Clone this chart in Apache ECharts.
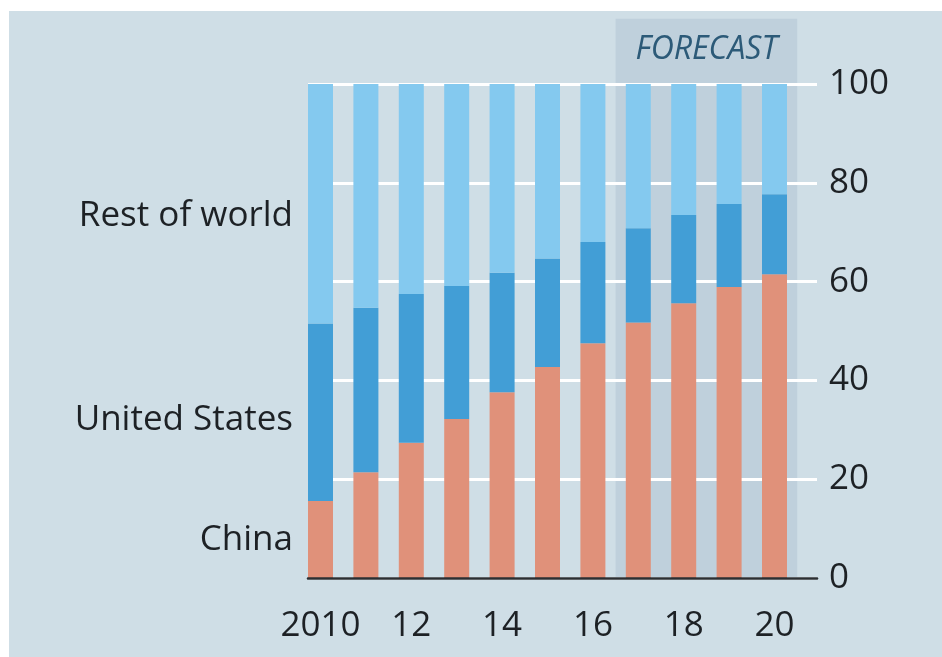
<!DOCTYPE html>
<html>
<head>
<meta charset="utf-8">
<script src="https://cdn.jsdelivr.net/npm/echarts@6/dist/echarts.min.js"></script>
<style>
  html, body { margin: 0; padding: 0; background: #ffffff; }
  #chart { width: 942px; height: 657px; }
</style>
</head>
<body>
<div id="chart"></div>
<script>
// Share of total, %, stacked from the bottom: China, United States, rest of world
const years = ['2010', '2011', '2012', '2013', '2014', '2015', '2016', '2017', '2018', '2019', '2020'];
const china = [15.6, 21.4, 27.4, 32.2, 37.6, 42.7, 47.5, 51.7, 55.6, 58.9, 61.5];
const unitedStates = [35.9, 33.3, 30.1, 26.9, 24.2, 22.0, 20.5, 19.1, 17.9, 16.8, 16.2];
const restOfWorld = [48.5, 45.3, 42.5, 40.9, 38.2, 35.3, 32.0, 29.2, 26.5, 24.3, 22.3];

const seriesNames = ['China', 'United States', 'Rest of world'];
const forecastYears = ['2017', '2020'];   // first and last forecast bars
const forecastLabel = 'FORECAST';

const FONT = '"Open Sans", "Noto Sans", sans-serif';
const TEXT = '#1d2125';

const chart = echarts.init(document.getElementById('chart'), null, { renderer: 'canvas' });

const bandPlot = { left: 297.8, right: 144.8, top: 84, bottom: 79 };   // bars, one band per year
const framePlot = { left: 308, right: 125, top: 84, bottom: 79 };     // gridlines and baseline

const option = {
  animation: false,
  backgroundColor: '#ffffff',
  grid: [
    Object.assign({ containLabel: false }, framePlot),
    Object.assign({ containLabel: false }, bandPlot)
  ],
  graphic: [
    { type: 'rect', z: -10, silent: true,
      shape: { x: 9, y: 11, width: 933, height: 646 },
      style: { fill: '#cfdee6' } },
    { type: 'text', z: 5, x: 293, y: 216,
      style: { text: seriesNames[2], fill: TEXT, fontFamily: FONT, fontSize: 35, align: 'right', verticalAlign: 'middle' } },
    { type: 'text', z: 5, x: 293, y: 420,
      style: { text: seriesNames[1], fill: TEXT, fontFamily: FONT, fontSize: 35, align: 'right', verticalAlign: 'middle' } },
    { type: 'text', z: 5, x: 293, y: 540,
      style: { text: seriesNames[0], fill: TEXT, fontFamily: FONT, fontSize: 35, align: 'right', verticalAlign: 'middle' } }
  ],
  xAxis: [
    {
      gridIndex: 0,
      type: 'value',
      min: 0,
      max: 1,
      z: 3,
      axisLine: { show: true, onZero: false, lineStyle: { color: '#2b2f33', width: 2.5 } },
      axisTick: { show: false },
      axisLabel: { show: false },
      splitLine: { show: false }
    },
    {
      gridIndex: 1,
      type: 'category',
      data: years,
      boundaryGap: true,
      axisLine: { show: false },
      axisTick: { show: false },
      splitLine: { show: false },
      axisLabel: {
        interval: 1,
        margin: 31,
        color: TEXT,
        fontFamily: FONT,
        fontSize: 35,
        formatter: (v, i) => (i === 0 ? v : v.slice(2))
      }
    }
  ],
  yAxis: [
    {
      gridIndex: 0,
      type: 'value',
      position: 'right',
      min: 0,
      max: 100,
      interval: 20,
      z: 1.5,
      axisLine: { show: false },
      axisTick: { show: false },
      splitLine: { show: true, lineStyle: { color: '#ffffff', width: 3 } },
      axisLabel: {
        margin: 12,
        padding: [5, 0, 0, 0],
        color: TEXT,
        fontFamily: FONT,
        fontSize: 35,
        align: 'left'
      }
    },
    {
      gridIndex: 1,
      type: 'value',
      min: 0,
      max: 100,
      show: false,
      splitLine: { show: false }
    }
  ],
  series: [
    {
      // Shaded forecast period, with its caption above the plot
      type: 'custom',
      name: 'Forecast',
      xAxisIndex: 1,
      yAxisIndex: 1,
      z: 1,
      silent: true,
      clip: false,
      encode: { x: 0, y: 1 },
      data: [[years.indexOf(forecastYears[0]), 113.2, years.indexOf(forecastYears[1])]],
      renderItem: function (params, api) {
        const band = api.size([1, 0])[0];
        const first = api.coord([api.value(0), 0]);
        const last = api.coord([api.value(2), api.value(1)]);
        const gridTop = api.coord([api.value(0), 100])[1];
        const x0 = first[0] - band / 2;
        const x1 = last[0] + band / 2;
        return {
          type: 'group',
          children: [
            { type: 'rect',
              shape: { x: x0, y: last[1], width: x1 - x0, height: first[1] - last[1] },
              style: { fill: '#bfd0dc' } },
            { type: 'text',
              x: (x0 + x1) / 2,
              y: (last[1] + gridTop) / 2 - 2,
              style: { text: forecastLabel, fill: '#2c5a78', fontFamily: FONT, fontSize: 32,
                       fontStyle: 'italic', align: 'center', verticalAlign: 'middle' } }
          ]
        };
      }
    },
    { type: 'bar', name: seriesNames[0], xAxisIndex: 1, yAxisIndex: 1, stack: 'share', z: 2, barWidth: 25,
      itemStyle: { color: '#e0917a' }, data: china },
    { type: 'bar', name: seriesNames[1], xAxisIndex: 1, yAxisIndex: 1, stack: 'share', z: 2, barWidth: 25,
      itemStyle: { color: '#429ed6' }, data: unitedStates },
    { type: 'bar', name: seriesNames[2], xAxisIndex: 1, yAxisIndex: 1, stack: 'share', z: 2, barWidth: 25,
      itemStyle: { color: '#84c9ef' }, data: restOfWorld }
  ]
};

chart.setOption(option);
</script>
</body>
</html>
